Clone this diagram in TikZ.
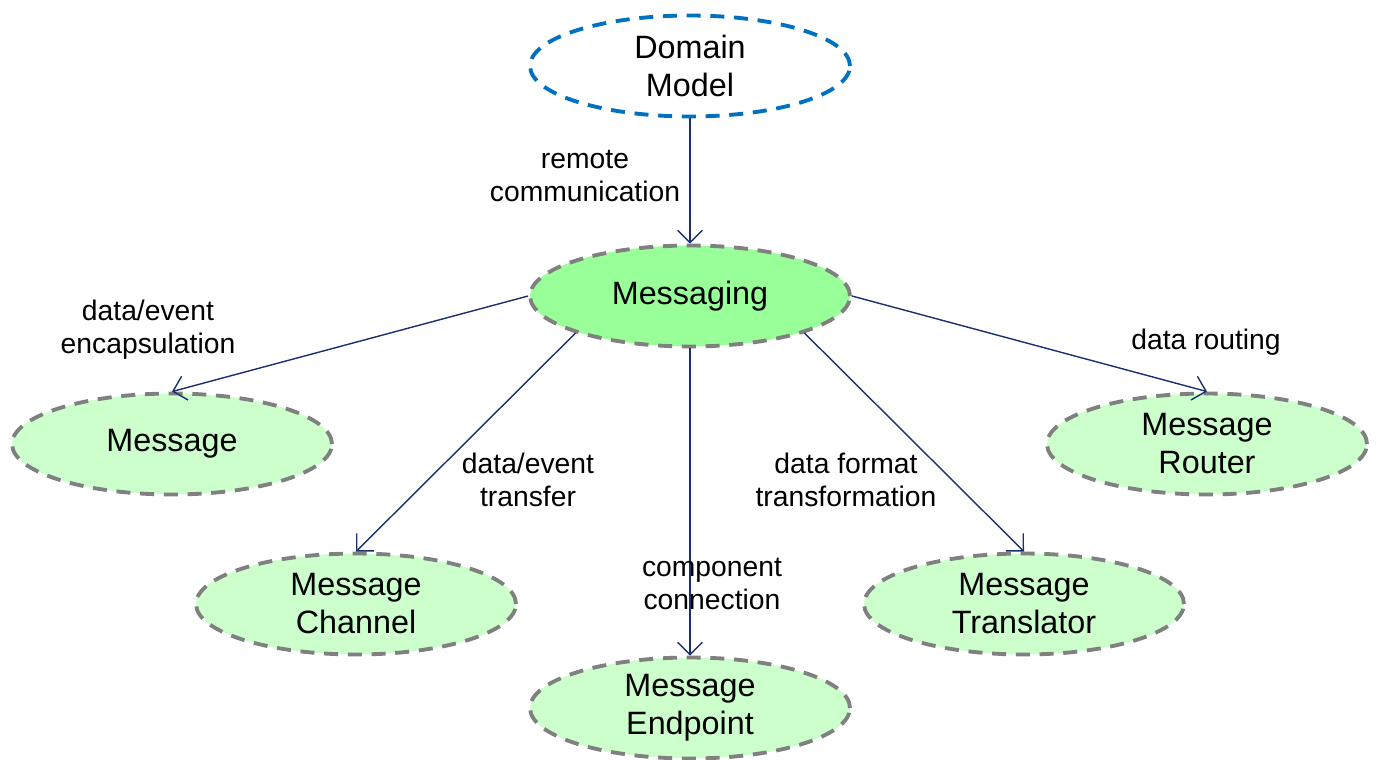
\documentclass[tikz,border=0pt]{standalone}
\usepackage{fontspec}
\setmainfont{Liberation Sans}
\usetikzlibrary{shapes.geometric,arrows.meta}
\definecolor{navy}{HTML}{1B2F6E}
\definecolor{dmblue}{HTML}{0070C0}
\definecolor{brdgray}{HTML}{808080}
\definecolor{bright}{HTML}{99FF99}
\definecolor{pale}{HTML}{CCFFCC}
\tikzset{
  oval/.style={ellipse, minimum width=6.4cm, minimum height=2.02cm, inner sep=0pt,
    align=center, font=\fontsize{18.4}{21.6}\selectfont,
    line width=2.2pt, dash pattern=on 8pt off 5.5pt},
  graynode/.style={oval, draw=brdgray, fill=pale},
  conn/.style={draw=navy, line width=0.8pt, -{Straight Barb[length=7pt,width=14pt]}},
  lbl/.style={align=center, font=\fontsize{16.1}{18.7}\selectfont, inner sep=0pt}
}
\begin{document}
\begin{tikzpicture}[x=0.02cm,y=-0.02cm]
\useasboundingbox (0,0) rectangle (1376,760);
\node[oval, draw=dmblue, fill=white] (dm) at (690,66) {Domain\\Model};
\node[graynode, fill=bright] (ms) at (690,296) {Messaging};
\node[graynode] (msg) at (172,444) {Message};
\node[graynode] (ch) at (356,604) {Message\\Channel};
\node[graynode] (ep) at (690,708) {Message\\Endpoint};
\node[graynode] (tr) at (1024,604) {Message\\Translator};
\node[graynode] (rt) at (1207,444) {Message\\Router};

\draw[conn] (dm.south) -- (ms.north);
\draw[conn] (ms.west) -- (msg.north);
\draw[conn] (ms.south west) -- (ch.north);
\draw[conn] (ms.south) -- (ep.north);
\draw[conn] (ms.south east) -- (tr.north);
\draw[conn] (ms.east) -- (rt.north);

\node[lbl] (l1) at (585,176) {remote\\communication};
\node[lbl] (l2) at (148,330) {data/event\\encapsulation};
\node[lbl] (l3) at (528,480) {data/event\\transfer};
\node[lbl] (l4) at (712,584) {component\\connection};
\node[lbl] (l5) at (846,480) {data format\\transformation};
\node[lbl] (l6) at (1206,342) {data routing};
\end{tikzpicture}
\end{document}
